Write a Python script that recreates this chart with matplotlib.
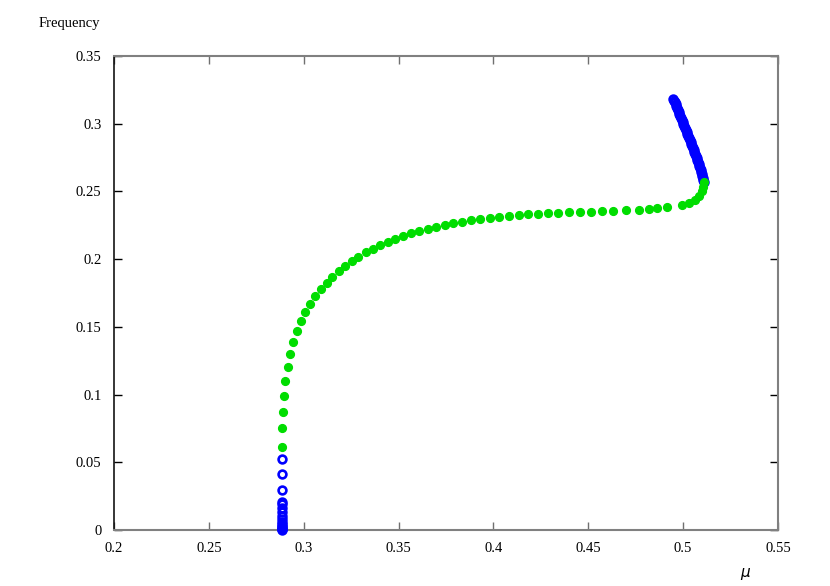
import matplotlib
matplotlib.use('Agg')
import matplotlib.pyplot as plt

# stable branch (filled green)
mu_stable = [0.2887, 0.2887, 0.2889, 0.2895, 0.2901, 0.2916, 0.2929, 0.2944, 0.2965, 0.2986,
             0.3008, 0.3035, 0.3061, 0.3090, 0.3121, 0.3151, 0.3186, 0.3219, 0.3255, 0.3288,
             0.3327, 0.3364, 0.3402, 0.3443, 0.3483, 0.3525, 0.3567, 0.3609, 0.3654, 0.3697,
             0.3743, 0.3789, 0.3834, 0.3883, 0.3931, 0.3982, 0.4031, 0.4082, 0.4133, 0.4184,
             0.4235, 0.4289, 0.4342, 0.4400, 0.4456, 0.4513, 0.4574, 0.4630, 0.4697, 0.4766,
             0.4822, 0.4864, 0.4913, 0.4992, 0.5033, 0.5063, 0.5084, 0.5098, 0.5106, 0.5110]
freq_stable = [0.0615, 0.0751, 0.0869, 0.0987, 0.1102, 0.1206, 0.1302, 0.1386, 0.1467, 0.1543,
               0.1607, 0.1671, 0.1726, 0.1780, 0.1826, 0.1868, 0.1910, 0.1947, 0.1984, 0.2018,
               0.2051, 0.2077, 0.2102, 0.2127, 0.2149, 0.2171, 0.2191, 0.2206, 0.2223, 0.2237,
               0.2250, 0.2265, 0.2276, 0.2287, 0.2294, 0.2304, 0.2313, 0.2319, 0.2326, 0.2331,
               0.2336, 0.2338, 0.2343, 0.2346, 0.2348, 0.2350, 0.2353, 0.2355, 0.2361, 0.2365,
               0.2370, 0.2375, 0.2383, 0.2398, 0.2417, 0.2437, 0.2466, 0.2501, 0.2535, 0.2567]

# unstable branches (open blue circles)
mu_unst_low = [0.2887, 0.2887, 0.2887, 0.2887, 0.2887, 0.2887, 0.2887, 0.2887, 0.2887, 0.2887,
               0.2887, 0.2887, 0.2887, 0.2887, 0.2887, 0.2887]
freq_unst_low = [0.0522, 0.0413, 0.0295, 0.0205, 0.0195, 0.0160, 0.0130, 0.0100, 0.0080, 0.0060,
                 0.0045, 0.0030, 0.0020, 0.0010, 0.0004, 0.0]

mu_unst_high = [0.5108, 0.5106, 0.5104, 0.5102, 0.5099, 0.5096, 0.5093, 0.5089, 0.5086, 0.5082,
                0.5079, 0.5075, 0.5071, 0.5067, 0.5063, 0.5059, 0.5055, 0.5051, 0.5047, 0.5043,
                0.5039, 0.5035, 0.5031, 0.5027, 0.5023, 0.5019, 0.5015, 0.5011, 0.5006, 0.5002,
                0.4998, 0.4994, 0.4990, 0.4986, 0.4981, 0.4977, 0.4973, 0.4969, 0.4964, 0.4960,
                0.4956, 0.4952, 0.4949]
freq_unst_high = [0.2570, 0.2585, 0.2600, 0.2614, 0.2629, 0.2644, 0.2659, 0.2673, 0.2688, 0.2703,
                  0.2718, 0.2732, 0.2747, 0.2762, 0.2777, 0.2791, 0.2806, 0.2821, 0.2836, 0.2850,
                  0.2865, 0.2880, 0.2895, 0.2909, 0.2924, 0.2939, 0.2954, 0.2968, 0.2983, 0.2998,
                  0.3013, 0.3027, 0.3042, 0.3057, 0.3072, 0.3086, 0.3101, 0.3116, 0.3131, 0.3145,
                  0.3158, 0.3170, 0.3179]

xticks = [0.2, 0.25, 0.3, 0.35, 0.4, 0.45, 0.5, 0.55]
xtick_labels = ['0.2', '0.25', '0.3', '0.35', '0.4', '0.45', '0.5', '0.55']
yticks = [0, 0.05, 0.1, 0.15, 0.2, 0.25, 0.3, 0.35]
ytick_labels = ['0', '0.05', '0.1', '0.15', '0.2', '0.25', '0.3', '0.35']

plt.rcParams['font.family'] = 'Liberation Serif'
plt.rcParams['font.size'] = 10

fig = plt.figure(figsize=(8.3, 5.86), dpi=100)
ax = fig.add_axes([0.1373, 0.0956, 0.8, 0.8088])

green = '#00dd00'
blue = '#0000ff'

ax.plot(mu_stable, freq_stable, 'o', color=green, ms=5.6, mec=green, clip_on=False, zorder=3)
ax.plot(mu_unst_low, freq_unst_low, 'o', mfc='none', mec=blue, ms=5.6, mew=1.9, clip_on=False, zorder=4)
ax.plot(mu_unst_high, freq_unst_high, 'o', mfc='none', mec=blue, ms=5.6, mew=1.9, clip_on=False, zorder=2)

ax.set_xlim(0.2, 0.55)
ax.set_ylim(0, 0.35)
ax.set_xticks(xticks)
ax.set_xticklabels(xtick_labels)
ax.set_yticks(yticks)
ax.set_yticklabels(ytick_labels)

for side in ['top', 'bottom', 'right']:
    ax.spines[side].set_color('#808080')
    ax.spines[side].set_linewidth(1.5)
ax.spines['left'].set_color('black')
ax.spines['left'].set_linewidth(1.1)

ax.tick_params(axis='x', direction='in', length=6, width=1, color='#707070',
               top=True, bottom=True, pad=9, labelsize=10.5)
ax.tick_params(axis='y', direction='in', length=6, width=1, color='black',
               left=True, right=True, pad=9, labelsize=10.5)

fig.text(39 / 830, 1 - 24 / 586, 'Frequency', ha='left', va='center', fontsize=10.5)
fig.text(745 / 830, 1 - 573 / 586, 'μ', ha='center', va='center', fontsize=11,
         style='italic', family='DejaVu Sans')

fig.savefig('out.png', dpi=100)
